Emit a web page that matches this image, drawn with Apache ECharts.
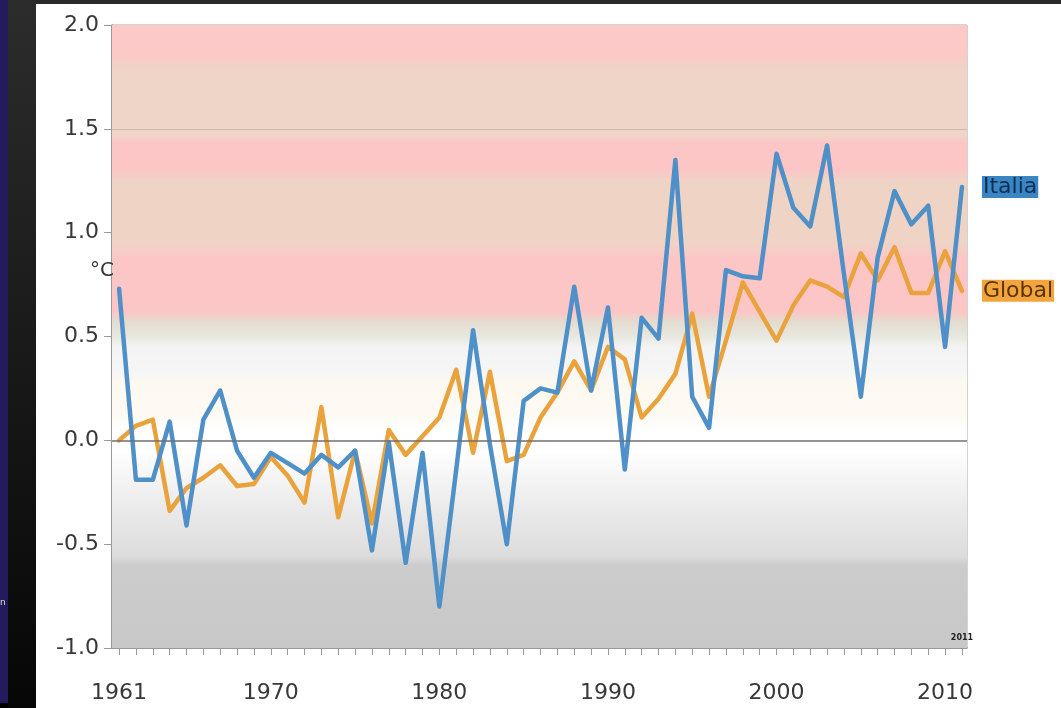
<!DOCTYPE html>
<html>
<head>
<meta charset="utf-8">
<title>Anomalie di temperatura</title>
<script src="https://cdn.jsdelivr.net/npm/echarts@6/dist/echarts.min.js"></script>
<style>
  html, body { margin: 0; padding: 0; background: #000; }
  #chart { width: 1061px; height: 708px; }
</style>
</head>
<body>
<div id="chart"></div>
<script>
// Years shown on the x axis
const years = [
  1961, 1962, 1963, 1964, 1965, 1966, 1967, 1968, 1969, 1970,
  1971, 1972, 1973, 1974, 1975, 1976, 1977, 1978, 1979, 1980,
  1981, 1982, 1983, 1984, 1985, 1986, 1987, 1988, 1989, 1990,
  1991, 1992, 1993, 1994, 1995, 1996, 1997, 1998, 1999, 2000,
  2001, 2002, 2003, 2004, 2005, 2006, 2007, 2008, 2009, 2010, 2011
];

// Temperature anomalies (°C), Italy
const italia = [
  0.73, -0.19, -0.19, 0.09, -0.41, 0.10, 0.24, -0.05, -0.18, -0.06,
  -0.11, -0.16, -0.07, -0.13, -0.05, -0.53, -0.01, -0.59, -0.06, -0.80,
  -0.14, 0.53, -0.02, -0.50, 0.19, 0.25, 0.23, 0.74, 0.24, 0.64,
  -0.14, 0.59, 0.49, 1.35, 0.21, 0.06, 0.82, 0.79, 0.78, 1.38,
  1.12, 1.03, 1.42, 0.80, 0.21, 0.88, 1.20, 1.04, 1.13, 0.45, 1.22
];

// Temperature anomalies (°C), global mean
const globale = [
  0.00, 0.07, 0.10, -0.34, -0.23, -0.18, -0.12, -0.22, -0.21, -0.08,
  -0.17, -0.30, 0.16, -0.37, -0.05, -0.40, 0.05, -0.07, 0.02, 0.11,
  0.34, -0.06, 0.33, -0.10, -0.07, 0.11, 0.23, 0.38, 0.24, 0.45,
  0.39, 0.11, 0.20, 0.32, 0.61, 0.21, 0.48, 0.76, 0.62, 0.48,
  0.65, 0.77, 0.74, 0.69, 0.90, 0.77, 0.93, 0.71, 0.71, 0.91, 0.72
];

// Labelled years on the x axis
const yearLabels = [1961, 1970, 1980, 1990, 2000, 2010];

// Value range of the y axis
const yMin = -1.0, yMax = 2.0, yStep = 0.5;

// Background shading of the plot: [value, colour], top to bottom
const shading = [
  [2.00, '#fcc8c8'], [1.86, '#fcc8c8'], [1.78, '#efd5c7'], [1.47, '#efd5c7'],
  [1.43, '#fcc6c6'], [1.30, '#fcc6c6'], [1.25, '#efd4c6'], [0.95, '#efd4c6'],
  [0.88, '#fcc6c6'], [0.62, '#fcc6c6'], [0.57, '#e3dccf'], [0.50, '#e8e8e0'],
  [0.45, '#f3f3f3'], [0.32, '#f6f6f6'], [0.28, '#fdf9f0'], [0.12, '#fdfaf4'],
  [0.05, '#ffffff'], [-0.05, '#ffffff'], [-0.30, '#ececec'], [-0.56, '#dcdcdc'],
  [-0.60, '#cccccc'], [-1.00, '#c8c8c8']
];

const xMin = 1960.58, xMax = 2011.3;
const lastYear = years[years.length - 1];

const chart = echarts.init(document.getElementById('chart'));

const toPairs = vals => years.map((y, i) => [y, vals[i]]);

const gradient = new echarts.graphic.LinearGradient(0, 0, 0, 1,
  shading.map(([v, c]) => ({ offset: (yMax - v) / (yMax - yMin), color: c })));

const font = 'DejaVu Sans, sans-serif';

chart.setOption({
  backgroundColor: '#000',
  animation: false,
  graphic: [
    { type: 'rect', z: -10, shape: { x: 0, y: 0, width: 1061, height: 4 }, style: { fill: '#2a2a2a' } },
    { type: 'rect', z: -10, shape: { x: 8, y: 0, width: 28, height: 708 },
      style: { fill: new echarts.graphic.LinearGradient(0, 0, 0, 1, [
        { offset: 0, color: '#2c2c2c' }, { offset: 1, color: '#060606' }]) } },
    { type: 'rect', z: -10, shape: { x: 0, y: 0, width: 8, height: 703 }, style: { fill: '#231b5e' } },
    { type: 'text', z: -9, left: 0, top: 598, style: { text: 'n', fill: '#ddd', font: '9px ' + font } },
    { type: 'rect', z: -10, shape: { x: 36, y: 4, width: 1025, height: 704 }, style: { fill: '#ffffff' } },
    { type: 'text', z: 5, left: 90, top: 261, style: { text: '°C', fill: '#333', font: '20px ' + font } }
  ],
  grid: {
    left: 112, top: 25, width: 855, height: 623,
    show: true, borderColor: '#a8a8a8', borderWidth: 1, backgroundColor: 'transparent'
  },
  xAxis: {
    type: 'value', min: xMin, max: xMax,
    splitLine: { show: false },
    axisLine: { show: true, onZero: false, lineStyle: { color: '#888', width: 1.5 } },
    axisTick: { show: true, customValues: years, length: 7, lineStyle: { color: '#999' } },
    axisLabel: {
      customValues: yearLabels, formatter: v => String(v),
      fontSize: 22, color: '#383838', fontFamily: font, margin: 34
    }
  },
  yAxis: {
    type: 'value', min: yMin, max: yMax, interval: yStep,
    splitLine: { show: false },
    axisLine: { show: true, lineStyle: { color: '#888', width: 1.5 } },
    axisTick: { show: true, length: 8, lineStyle: { color: '#999' } },
    axisLabel: {
      formatter: v => v.toFixed(1),
      fontSize: 22, color: '#383838', fontFamily: font, margin: 13
    }
  },
  series: [
    {
      name: 'Global', type: 'line', data: toPairs(globale), z: 3,
      symbol: 'none', smooth: false,
      lineStyle: { color: '#eaa23c', width: 4.5, cap: 'round', join: 'round' },
      endLabel: {
        show: true, formatter: 'Global', distance: 20,
        fontSize: 22, fontFamily: font, color: '#5a3300',
        backgroundColor: '#f1a53c', padding: [0, 1, 0, 1]
      },
      markArea: {
        silent: true,
        itemStyle: { color: gradient },
        data: [[{ xAxis: xMin, yAxis: yMin }, { xAxis: xMax, yAxis: yMax }]]
      },
      markLine: {
        silent: true, symbol: 'none', label: { show: false },
        data: [
          { yAxis: 0, lineStyle: { color: '#6f6f6f', width: 1.5, type: 'solid' } },
          { yAxis: 1.5, lineStyle: { color: 'rgba(190,160,140,0.55)', width: 1, type: 'solid' } }
        ]
      }
    },
    {
      name: 'Italia', type: 'line', data: toPairs(italia), z: 4,
      symbol: 'none', smooth: false,
      lineStyle: { color: '#4e90c7', width: 4.5, cap: 'round', join: 'round' },
      endLabel: {
        show: true, formatter: 'Italia', distance: 20,
        fontSize: 22, fontFamily: font, color: '#0c2f55',
        backgroundColor: '#3a85c2', padding: [0, 1, 0, 1]
      },
      markPoint: {
        silent: true, symbol: 'rect', symbolSize: [1, 1],
        itemStyle: { color: 'rgba(0,0,0,0)' },
        label: { show: true, position: 'inside', formatter: String(lastYear),
          fontSize: 8, fontWeight: 'bold', color: '#222', fontFamily: font },
        data: [{ coord: [lastYear, -0.95] }]
      }
    }
  ]
});
</script>
</body>
</html>
